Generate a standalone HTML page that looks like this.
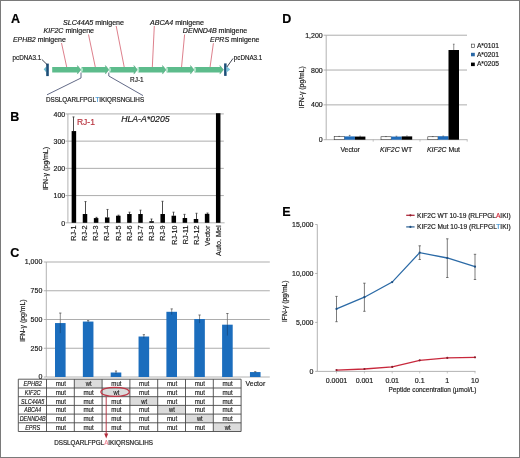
<!DOCTYPE html>
<html><head><meta charset="utf-8"><style>
html,body{margin:0;padding:0;background:#fff;}
body{width:520px;height:458px;overflow:hidden;}
svg{display:block;font-family:"Liberation Sans", sans-serif;will-change:transform;} text{stroke-width:0.18px;}
</style></head><body>
<svg width="520" height="458" viewBox="0 0 520 458">


<g>
<rect x="0" y="0" width="520" height="458" fill="#fff"/>
<text x="11" y="22.6" font-size="12.5" font-weight="bold" fill="#000" stroke="#000">A</text>
<text x="10.2" y="121.4" font-size="12.5" font-weight="bold" fill="#000" stroke="#000">B</text>
<text x="10.3" y="257.3" font-size="12.5" font-weight="bold" fill="#000" stroke="#000">C</text>
<text x="282.2" y="22.6" font-size="12.5" font-weight="bold" fill="#000" stroke="#000">D</text>
<text x="282.2" y="215.5" font-size="12.5" font-weight="bold" fill="#000" stroke="#000">E</text>
<text x="63" y="24.6" font-size="7" textLength="61" lengthAdjust="spacingAndGlyphs" fill="#1a1a1a" stroke="#1a1a1a"><tspan font-style="italic">SLC44A5</tspan> minigene</text>
<text x="150" y="24.6" font-size="7" textLength="54" lengthAdjust="spacingAndGlyphs" fill="#1a1a1a" stroke="#1a1a1a"><tspan font-style="italic">ABCA4</tspan> minigene</text>
<text x="43.5" y="33.4" font-size="7" textLength="50.5" lengthAdjust="spacingAndGlyphs" fill="#1a1a1a" stroke="#1a1a1a"><tspan font-style="italic">KIF2C</tspan> minigene</text>
<text x="182.8" y="33.4" font-size="7" textLength="64.5" lengthAdjust="spacingAndGlyphs" fill="#1a1a1a" stroke="#1a1a1a"><tspan font-style="italic">DENND4B</tspan> minigene</text>
<text x="13" y="42.2" font-size="7" textLength="52.8" lengthAdjust="spacingAndGlyphs" fill="#1a1a1a" stroke="#1a1a1a"><tspan font-style="italic">EPHB2</tspan> minigene</text>
<text x="210" y="42.2" font-size="7" textLength="49.5" lengthAdjust="spacingAndGlyphs" fill="#1a1a1a" stroke="#1a1a1a"><tspan font-style="italic">EPRS</tspan> minigene</text>
<text x="12.5" y="59.9" font-size="7" textLength="28.8" lengthAdjust="spacingAndGlyphs" fill="#1a1a1a" stroke="#1a1a1a">pcDNA3.1</text>
<text x="233.8" y="59.5" font-size="7" textLength="28.5" lengthAdjust="spacingAndGlyphs" fill="#1a1a1a" stroke="#1a1a1a">pcDNA3.1</text>
<line x1="61.5" y1="43" x2="66.8" y2="67.5" stroke="#d4606e" stroke-width="0.8"/>
<line x1="88.5" y1="34.5" x2="95.4" y2="67.5" stroke="#d4606e" stroke-width="0.8"/>
<line x1="116.2" y1="26" x2="124.3" y2="67.5" stroke="#d4606e" stroke-width="0.8"/>
<line x1="154.3" y1="26" x2="152.3" y2="67.5" stroke="#d4606e" stroke-width="0.8"/>
<line x1="184.6" y1="34.5" x2="181.5" y2="67.5" stroke="#d4606e" stroke-width="0.8"/>
<line x1="213.4" y1="43.2" x2="210" y2="67.5" stroke="#d4606e" stroke-width="0.8"/>
<path d="M52.2,66.9 L77.30000000000001,66.9 L77.30000000000001,65.4 L80.9,69.75 L77.30000000000001,74.1 L77.30000000000001,72.6 L52.2,72.6 Z" fill="#5dbc8c"/>
<path d="M77.30000000000001,65.4 L80.9,69.75 L77.30000000000001,74.1" fill="none" stroke="#4f9f78" stroke-width="0.6"/>
<path d="M81.80000000000001,66.9 L105.30000000000001,66.9 L105.30000000000001,65.4 L108.9,69.75 L105.30000000000001,74.1 L105.30000000000001,72.6 L81.80000000000001,72.6 L82.60000000000001,69.75 Z" fill="#5dbc8c"/>
<path d="M105.30000000000001,65.4 L108.9,69.75 L105.30000000000001,74.1" fill="none" stroke="#4f9f78" stroke-width="0.6"/>
<path d="M80.9,69.75 L81.10000000000001,66.9 L82.00000000000001,66.9 L82.80000000000001,69.75 L82.00000000000001,72.6 L81.10000000000001,72.6 Z" fill="#b0e6ca"/>
<path d="M109.80000000000001,66.9 L133.8,66.9 L133.8,65.4 L137.4,69.75 L133.8,74.1 L133.8,72.6 L109.80000000000001,72.6 L110.60000000000001,69.75 Z" fill="#5dbc8c"/>
<path d="M133.8,65.4 L137.4,69.75 L133.8,74.1" fill="none" stroke="#4f9f78" stroke-width="0.6"/>
<path d="M108.9,69.75 L109.10000000000001,66.9 L110.00000000000001,66.9 L110.80000000000001,69.75 L110.00000000000001,72.6 L109.10000000000001,72.6 Z" fill="#b0e6ca"/>
<path d="M138.3,66.9 L162.4,66.9 L162.4,65.4 L166.0,69.75 L162.4,74.1 L162.4,72.6 L138.3,72.6 L139.10000000000002,69.75 Z" fill="#5dbc8c"/>
<path d="M162.4,65.4 L166.0,69.75 L162.4,74.1" fill="none" stroke="#4f9f78" stroke-width="0.6"/>
<path d="M137.4,69.75 L137.6,66.9 L138.5,66.9 L139.3,69.75 L138.5,72.6 L137.6,72.6 Z" fill="#b0e6ca"/>
<path d="M166.9,66.9 L190.4,66.9 L190.4,65.4 L194.0,69.75 L190.4,74.1 L190.4,72.6 L166.9,72.6 L167.70000000000002,69.75 Z" fill="#5dbc8c"/>
<path d="M190.4,65.4 L194.0,69.75 L190.4,74.1" fill="none" stroke="#4f9f78" stroke-width="0.6"/>
<path d="M166.0,69.75 L166.2,66.9 L167.1,66.9 L167.9,69.75 L167.1,72.6 L166.2,72.6 Z" fill="#b0e6ca"/>
<path d="M194.9,66.9 L219.8,66.9 L219.8,65.4 L223.4,69.75 L219.8,74.1 L219.8,72.6 L194.9,72.6 L195.70000000000002,69.75 Z" fill="#5dbc8c"/>
<path d="M219.8,65.4 L223.4,69.75 L219.8,74.1" fill="none" stroke="#4f9f78" stroke-width="0.6"/>
<path d="M194.0,69.75 L194.2,66.9 L195.1,66.9 L195.9,69.75 L195.1,72.6 L194.2,72.6 Z" fill="#b0e6ca"/>
<path d="M46.3,66.4 L43.7,69.3 L46.3,72.4 Z" fill="#6cbcd0"/>
<rect x="46.20" y="63.60" width="2.60" height="12.50" fill="#1c4f78"/>
<rect x="224.10" y="63.40" width="2.50" height="12.50" fill="#1c4f78"/>
<path d="M226.5,66.2 L230.3,69.4 L226.5,72.6 Z" fill="#7cc4dc"/>
<line x1="41.8" y1="59.4" x2="47.3" y2="64.8" stroke="#2a3040" stroke-width="0.9"/>
<line x1="233.0" y1="58.5" x2="226.9" y2="67.0" stroke="#2a3040" stroke-width="0.9"/>
<path d="M81,72.6 L81,78 L47,94.8" fill="none" stroke="#3a4468" stroke-width="0.8"/>
<path d="M108.8,72.6 L108.8,76 L143,95.6" fill="none" stroke="#3a4468" stroke-width="0.8"/>
<text x="130.1" y="82" font-size="7" textLength="13.6" lengthAdjust="spacingAndGlyphs" fill="#1a1a1a" stroke="#1a1a1a">RJ-1</text>
<text x="45.9" y="101.6" font-size="6.5" textLength="98.2" lengthAdjust="spacingAndGlyphs" fill="#1a1a1a" stroke="#1a1a1a">DSSLQARLFPGL<tspan fill="#3a90d0" stroke="#3a90d0">T</tspan>IKIQRSNGLIHS</text>
<line x1="67.9" y1="195.58" x2="223.8" y2="195.58" stroke="#a4a4a4" stroke-width="0.9"/>
<line x1="67.9" y1="168.36" x2="223.8" y2="168.36" stroke="#a4a4a4" stroke-width="0.9"/>
<line x1="67.9" y1="141.14000000000001" x2="223.8" y2="141.14000000000001" stroke="#a4a4a4" stroke-width="0.9"/>
<line x1="67.9" y1="113.92000000000002" x2="223.8" y2="113.92000000000002" stroke="#a4a4a4" stroke-width="0.9"/>
<line x1="67.9" y1="113.92000000000002" x2="67.9" y2="222.8" stroke="#a0a0a0" stroke-width="0.8"/>
<line x1="67.9" y1="222.8" x2="224.6" y2="222.8" stroke="#a0a0a0" stroke-width="0.8"/>
<line x1="65.5" y1="222.8" x2="67.9" y2="222.8" stroke="#a0a0a0" stroke-width="0.8"/>
<text x="65.2" y="225.70000000000002" font-size="7" text-anchor="end" fill="#1a1a1a" stroke="#1a1a1a">0</text>
<line x1="65.5" y1="195.58" x2="67.9" y2="195.58" stroke="#a0a0a0" stroke-width="0.8"/>
<text x="65.2" y="198.48000000000002" font-size="7" text-anchor="end" fill="#1a1a1a" stroke="#1a1a1a">100</text>
<line x1="65.5" y1="168.36" x2="67.9" y2="168.36" stroke="#a0a0a0" stroke-width="0.8"/>
<text x="65.2" y="171.26000000000002" font-size="7" text-anchor="end" fill="#1a1a1a" stroke="#1a1a1a">200</text>
<line x1="65.5" y1="141.14000000000001" x2="67.9" y2="141.14000000000001" stroke="#a0a0a0" stroke-width="0.8"/>
<text x="65.2" y="144.04000000000002" font-size="7" text-anchor="end" fill="#1a1a1a" stroke="#1a1a1a">300</text>
<line x1="65.5" y1="113.92000000000002" x2="67.9" y2="113.92000000000002" stroke="#a0a0a0" stroke-width="0.8"/>
<text x="65.2" y="116.82000000000002" font-size="7" text-anchor="end" fill="#1a1a1a" stroke="#1a1a1a">400</text>
<text x="48.3" y="168.5" font-size="7" text-anchor="middle" textLength="43.2" lengthAdjust="spacingAndGlyphs" fill="#1a1a1a" stroke="#1a1a1a" transform="rotate(-90 48.3 168.5)">IFN-γ (pg/mL)</text>
<text x="76.9" y="124.9" font-size="9" textLength="18.0" lengthAdjust="spacingAndGlyphs" fill="#b8343f" stroke="#b8343f">RJ-1</text>
<text x="121.2" y="122.1" font-size="8.9" textLength="48.4" lengthAdjust="spacingAndGlyphs" font-style="italic" fill="#1a1a1a" stroke="#1a1a1a">HLA-A*0205</text>
<line x1="73.5" y1="116.91420000000001" x2="73.5" y2="131.0686" stroke="#3a3a3a" stroke-width="0.9"/>
<line x1="72.5" y1="116.91420000000001" x2="74.5" y2="116.91420000000001" stroke="#3a3a3a" stroke-width="0.8"/>
<rect x="71.65" y="131.07" width="4.50" height="91.73" fill="#000"/>
<text x="75.8" y="225.5" font-size="7.2" text-anchor="end" fill="#1a1a1a" stroke="#1a1a1a" transform="rotate(-90 75.8 225.5)">RJ-1</text>
<line x1="85.5" y1="201.5684" x2="85.5" y2="214.00794000000002" stroke="#3a3a3a" stroke-width="0.9"/>
<line x1="84.5" y1="201.5684" x2="86.5" y2="201.5684" stroke="#3a3a3a" stroke-width="0.8"/>
<rect x="82.75" y="214.01" width="4.50" height="8.79" fill="#000"/>
<text x="87.0" y="225.5" font-size="7.2" text-anchor="end" fill="#1a1a1a" stroke="#1a1a1a" transform="rotate(-90 87.0 225.5)">RJ-2</text>
<line x1="96.5" y1="217.35600000000002" x2="96.5" y2="218.09094000000002" stroke="#3a3a3a" stroke-width="0.9"/>
<line x1="95.5" y1="217.35600000000002" x2="97.5" y2="217.35600000000002" stroke="#3a3a3a" stroke-width="0.8"/>
<rect x="93.85" y="218.09" width="4.50" height="4.71" fill="#000"/>
<text x="98.2" y="225.5" font-size="7.2" text-anchor="end" fill="#1a1a1a" stroke="#1a1a1a" transform="rotate(-90 98.2 225.5)">RJ-3</text>
<line x1="107.5" y1="209.46220000000002" x2="107.5" y2="217.41044000000002" stroke="#3a3a3a" stroke-width="0.9"/>
<line x1="106.5" y1="209.46220000000002" x2="108.5" y2="209.46220000000002" stroke="#3a3a3a" stroke-width="0.8"/>
<rect x="104.95" y="217.41" width="4.50" height="5.39" fill="#000"/>
<text x="109.4" y="225.5" font-size="7.2" text-anchor="end" fill="#1a1a1a" stroke="#1a1a1a" transform="rotate(-90 109.4 225.5)">RJ-4</text>
<line x1="118.5" y1="215.1784" x2="118.5" y2="215.7228" stroke="#3a3a3a" stroke-width="0.9"/>
<line x1="117.5" y1="215.1784" x2="119.5" y2="215.1784" stroke="#3a3a3a" stroke-width="0.8"/>
<rect x="116.05" y="215.72" width="4.50" height="7.08" fill="#000"/>
<text x="120.6" y="225.5" font-size="7.2" text-anchor="end" fill="#1a1a1a" stroke="#1a1a1a" transform="rotate(-90 120.6 225.5)">RJ-5</text>
<line x1="129.5" y1="212.1842" x2="129.5" y2="214.00794000000002" stroke="#3a3a3a" stroke-width="0.9"/>
<line x1="128.5" y1="212.1842" x2="130.5" y2="212.1842" stroke="#3a3a3a" stroke-width="0.8"/>
<rect x="127.15" y="214.01" width="4.50" height="8.79" fill="#000"/>
<text x="131.8" y="225.5" font-size="7.2" text-anchor="end" fill="#1a1a1a" stroke="#1a1a1a" transform="rotate(-90 131.8 225.5)">RJ-6</text>
<line x1="140.5" y1="210.14270000000002" x2="140.5" y2="214.00794000000002" stroke="#3a3a3a" stroke-width="0.9"/>
<line x1="139.5" y1="210.14270000000002" x2="141.5" y2="210.14270000000002" stroke="#3a3a3a" stroke-width="0.8"/>
<rect x="138.25" y="214.01" width="4.50" height="8.79" fill="#000"/>
<text x="143.0" y="225.5" font-size="7.2" text-anchor="end" fill="#1a1a1a" stroke="#1a1a1a" transform="rotate(-90 143.0 225.5)">RJ-7</text>
<line x1="151.5" y1="218.9892" x2="151.5" y2="221.19402000000002" stroke="#3a3a3a" stroke-width="0.9"/>
<line x1="150.5" y1="218.9892" x2="152.5" y2="218.9892" stroke="#3a3a3a" stroke-width="0.8"/>
<rect x="149.35" y="221.19" width="4.50" height="1.61" fill="#000"/>
<text x="154.2" y="225.5" font-size="7.2" text-anchor="end" fill="#1a1a1a" stroke="#1a1a1a" transform="rotate(-90 154.2 225.5)">RJ-8</text>
<line x1="162.5" y1="201.2962" x2="162.5" y2="214.00794000000002" stroke="#3a3a3a" stroke-width="0.9"/>
<line x1="161.5" y1="201.2962" x2="163.5" y2="201.2962" stroke="#3a3a3a" stroke-width="0.8"/>
<rect x="160.45" y="214.01" width="4.50" height="8.79" fill="#000"/>
<text x="165.4" y="225.5" font-size="7.2" text-anchor="end" fill="#1a1a1a" stroke="#1a1a1a" transform="rotate(-90 165.4 225.5)">RJ-9</text>
<line x1="173.5" y1="212.1842" x2="173.5" y2="215.7228" stroke="#3a3a3a" stroke-width="0.9"/>
<line x1="172.5" y1="212.1842" x2="174.5" y2="212.1842" stroke="#3a3a3a" stroke-width="0.8"/>
<rect x="171.55" y="215.72" width="4.50" height="7.08" fill="#000"/>
<text x="176.6" y="225.5" font-size="7.2" text-anchor="end" fill="#1a1a1a" stroke="#1a1a1a" transform="rotate(-90 176.6 225.5)">RJ-10</text>
<line x1="184.5" y1="214.36180000000002" x2="184.5" y2="218.00928000000002" stroke="#3a3a3a" stroke-width="0.9"/>
<line x1="183.5" y1="214.36180000000002" x2="185.5" y2="214.36180000000002" stroke="#3a3a3a" stroke-width="0.8"/>
<rect x="182.65" y="218.01" width="4.50" height="4.79" fill="#000"/>
<text x="187.8" y="225.5" font-size="7.2" text-anchor="end" fill="#1a1a1a" stroke="#1a1a1a" transform="rotate(-90 187.8 225.5)">RJ-11</text>
<line x1="196.5" y1="213.27300000000002" x2="196.5" y2="218.9892" stroke="#3a3a3a" stroke-width="0.9"/>
<line x1="195.5" y1="213.27300000000002" x2="197.5" y2="213.27300000000002" stroke="#3a3a3a" stroke-width="0.8"/>
<rect x="193.75" y="218.99" width="4.50" height="3.81" fill="#000"/>
<text x="199.0" y="225.5" font-size="7.2" text-anchor="end" fill="#1a1a1a" stroke="#1a1a1a" transform="rotate(-90 199.0 225.5)">RJ-12</text>
<line x1="207.5" y1="213.00080000000003" x2="207.5" y2="213.81740000000002" stroke="#3a3a3a" stroke-width="0.9"/>
<line x1="206.5" y1="213.00080000000003" x2="208.5" y2="213.00080000000003" stroke="#3a3a3a" stroke-width="0.8"/>
<rect x="204.85" y="213.82" width="4.50" height="8.98" fill="#000"/>
<text x="210.2" y="225.5" font-size="7.2" text-anchor="end" fill="#1a1a1a" stroke="#1a1a1a" transform="rotate(-90 210.2 225.5)">Vector</text>
<rect x="215.95" y="113.20" width="4.50" height="109.60" fill="#000"/>
<text x="221.4" y="225.5" font-size="7.2" text-anchor="end" fill="#1a1a1a" stroke="#1a1a1a" transform="rotate(-90 221.4 225.5)">Auto. Mel</text>
<line x1="46.3" y1="348.25" x2="269.8" y2="348.25" stroke="#a4a4a4" stroke-width="0.9"/>
<line x1="46.3" y1="319.5" x2="269.8" y2="319.5" stroke="#a4a4a4" stroke-width="0.9"/>
<line x1="46.3" y1="290.75" x2="269.8" y2="290.75" stroke="#a4a4a4" stroke-width="0.9"/>
<line x1="46.3" y1="262.0" x2="269.8" y2="262.0" stroke="#a4a4a4" stroke-width="0.9"/>
<line x1="46.3" y1="262.0" x2="46.3" y2="377.0" stroke="#a0a0a0" stroke-width="0.8"/>
<line x1="46.3" y1="377.0" x2="269.8" y2="377.0" stroke="#a0a0a0" stroke-width="0.8"/>
<line x1="43.8" y1="377.0" x2="46.3" y2="377.0" stroke="#a0a0a0" stroke-width="0.8"/>
<text x="42.3" y="379.4" font-size="7" text-anchor="end" fill="#1a1a1a" stroke="#1a1a1a">0</text>
<line x1="43.8" y1="348.25" x2="46.3" y2="348.25" stroke="#a0a0a0" stroke-width="0.8"/>
<text x="42.3" y="350.65" font-size="7" text-anchor="end" fill="#1a1a1a" stroke="#1a1a1a">250</text>
<line x1="43.8" y1="319.5" x2="46.3" y2="319.5" stroke="#a0a0a0" stroke-width="0.8"/>
<text x="42.3" y="321.9" font-size="7" text-anchor="end" fill="#1a1a1a" stroke="#1a1a1a">500</text>
<line x1="43.8" y1="290.75" x2="46.3" y2="290.75" stroke="#a0a0a0" stroke-width="0.8"/>
<text x="42.3" y="293.15" font-size="7" text-anchor="end" fill="#1a1a1a" stroke="#1a1a1a">750</text>
<line x1="43.8" y1="262.0" x2="46.3" y2="262.0" stroke="#a0a0a0" stroke-width="0.8"/>
<text x="42.3" y="264.4" font-size="7" text-anchor="end" fill="#1a1a1a" stroke="#1a1a1a">1,000</text>
<text x="25.5" y="320.6" font-size="7" text-anchor="middle" textLength="42.4" lengthAdjust="spacingAndGlyphs" fill="#1a1a1a" stroke="#1a1a1a" transform="rotate(-90 25.5 320.6)">IFN-γ (pg/mL)</text>
<rect x="55.00" y="323.06" width="10.60" height="53.94" fill="#1b6dbd"/>
<line x1="60.3" y1="313.06" x2="60.3" y2="323.065" stroke="#707070" stroke-width="0.8"/>
<line x1="60.3" y1="323.065" x2="60.3" y2="333.07" stroke="#164a80" stroke-width="0.8"/>
<line x1="59.199999999999996" y1="313.06" x2="61.4" y2="313.06" stroke="#505050" stroke-width="0.8"/>
<rect x="82.85" y="321.57" width="10.60" height="55.43" fill="#1b6dbd"/>
<line x1="88.15" y1="320.65" x2="88.15" y2="321.57" stroke="#707070" stroke-width="0.8"/>
<line x1="88.15" y1="321.57" x2="88.15" y2="322.49" stroke="#164a80" stroke-width="0.8"/>
<line x1="87.05000000000001" y1="320.65" x2="89.25" y2="320.65" stroke="#505050" stroke-width="0.8"/>
<rect x="110.70" y="372.51" width="10.60" height="4.49" fill="#1b6dbd"/>
<line x1="116.0" y1="371.02" x2="116.0" y2="372.515" stroke="#707070" stroke-width="0.8"/>
<line x1="116.0" y1="372.515" x2="116.0" y2="374.01" stroke="#164a80" stroke-width="0.8"/>
<line x1="114.9" y1="371.02" x2="117.1" y2="371.02" stroke="#505050" stroke-width="0.8"/>
<rect x="138.55" y="336.52" width="10.60" height="40.48" fill="#1b6dbd"/>
<line x1="143.85000000000002" y1="334.68" x2="143.85000000000002" y2="336.52" stroke="#707070" stroke-width="0.8"/>
<line x1="143.85000000000002" y1="336.52" x2="143.85000000000002" y2="338.36" stroke="#164a80" stroke-width="0.8"/>
<line x1="142.75000000000003" y1="334.68" x2="144.95000000000002" y2="334.68" stroke="#505050" stroke-width="0.8"/>
<rect x="166.40" y="311.80" width="10.60" height="65.20" fill="#1b6dbd"/>
<line x1="171.7" y1="308.92" x2="171.7" y2="311.795" stroke="#707070" stroke-width="0.8"/>
<line x1="171.7" y1="311.795" x2="171.7" y2="314.67" stroke="#164a80" stroke-width="0.8"/>
<line x1="170.6" y1="308.92" x2="172.79999999999998" y2="308.92" stroke="#505050" stroke-width="0.8"/>
<rect x="194.25" y="319.04" width="10.60" height="57.96" fill="#1b6dbd"/>
<line x1="199.55" y1="315.015" x2="199.55" y2="319.04" stroke="#707070" stroke-width="0.8"/>
<line x1="199.55" y1="319.04" x2="199.55" y2="323.065" stroke="#164a80" stroke-width="0.8"/>
<line x1="198.45000000000002" y1="315.015" x2="200.65" y2="315.015" stroke="#505050" stroke-width="0.8"/>
<rect x="222.10" y="324.68" width="10.60" height="52.32" fill="#1b6dbd"/>
<line x1="227.40000000000003" y1="313.52" x2="227.40000000000003" y2="324.675" stroke="#707070" stroke-width="0.8"/>
<line x1="227.40000000000003" y1="324.675" x2="227.40000000000003" y2="335.6" stroke="#164a80" stroke-width="0.8"/>
<line x1="226.30000000000004" y1="313.52" x2="228.50000000000003" y2="313.52" stroke="#505050" stroke-width="0.8"/>
<rect x="249.95" y="372.06" width="10.60" height="4.94" fill="#1b6dbd"/>
<line x1="255.25" y1="371.71" x2="255.25" y2="372.055" stroke="#707070" stroke-width="0.8"/>
<line x1="255.25" y1="372.055" x2="255.25" y2="372.4" stroke="#164a80" stroke-width="0.8"/>
<line x1="254.15" y1="371.71" x2="256.35" y2="371.71" stroke="#505050" stroke-width="0.8"/>
<text x="245.6" y="385.6" font-size="7.6" textLength="19.6" lengthAdjust="spacingAndGlyphs" fill="#1a1a1a" stroke="#1a1a1a">Vector</text>
<rect x="74.30" y="379.20" width="27.80" height="8.80" fill="#dcdcdc"/>
<rect x="102.10" y="388.00" width="27.80" height="8.70" fill="#dcdcdc"/>
<rect x="129.90" y="396.70" width="27.80" height="8.70" fill="#dcdcdc"/>
<rect x="157.70" y="405.40" width="27.80" height="8.70" fill="#dcdcdc"/>
<rect x="185.50" y="414.10" width="27.80" height="8.70" fill="#dcdcdc"/>
<rect x="213.30" y="422.80" width="27.80" height="8.70" fill="#dcdcdc"/>
<line x1="18.3" y1="379.2" x2="241.1" y2="379.2" stroke="#484848" stroke-width="0.9"/>
<line x1="18.3" y1="388.0" x2="241.1" y2="388.0" stroke="#484848" stroke-width="0.9"/>
<line x1="18.3" y1="396.7" x2="241.1" y2="396.7" stroke="#484848" stroke-width="0.9"/>
<line x1="18.3" y1="405.4" x2="241.1" y2="405.4" stroke="#484848" stroke-width="0.9"/>
<line x1="18.3" y1="414.1" x2="241.1" y2="414.1" stroke="#484848" stroke-width="0.9"/>
<line x1="18.3" y1="422.8" x2="241.1" y2="422.8" stroke="#484848" stroke-width="0.9"/>
<line x1="18.3" y1="431.5" x2="241.1" y2="431.5" stroke="#484848" stroke-width="0.9"/>
<line x1="18.3" y1="379.2" x2="18.3" y2="431.5" stroke="#484848" stroke-width="0.9"/>
<line x1="46.5" y1="379.2" x2="46.5" y2="431.5" stroke="#484848" stroke-width="0.9"/>
<line x1="74.3" y1="379.2" x2="74.3" y2="431.5" stroke="#484848" stroke-width="0.9"/>
<line x1="102.1" y1="379.2" x2="102.1" y2="431.5" stroke="#484848" stroke-width="0.9"/>
<line x1="129.9" y1="379.2" x2="129.9" y2="431.5" stroke="#484848" stroke-width="0.9"/>
<line x1="157.7" y1="379.2" x2="157.7" y2="431.5" stroke="#484848" stroke-width="0.9"/>
<line x1="185.5" y1="379.2" x2="185.5" y2="431.5" stroke="#484848" stroke-width="0.9"/>
<line x1="213.3" y1="379.2" x2="213.3" y2="431.5" stroke="#484848" stroke-width="0.9"/>
<line x1="241.1" y1="379.2" x2="241.1" y2="431.5" stroke="#484848" stroke-width="0.9"/>
<text x="32.7" y="386.1" font-size="7.5" text-anchor="middle" textLength="18.4" lengthAdjust="spacingAndGlyphs" font-style="italic" fill="#1a1a1a" stroke="#1a1a1a">EPHB2</text>
<text x="60.8" y="386.1" font-size="7.5" text-anchor="middle" textLength="10.2" lengthAdjust="spacingAndGlyphs" fill="#1a1a1a" stroke="#1a1a1a">mut</text>
<text x="88.6" y="386.1" font-size="7.5" text-anchor="middle" textLength="5.8" lengthAdjust="spacingAndGlyphs" fill="#1a1a1a" stroke="#1a1a1a">wt</text>
<text x="116.39999999999999" y="386.1" font-size="7.5" text-anchor="middle" textLength="10.2" lengthAdjust="spacingAndGlyphs" fill="#1a1a1a" stroke="#1a1a1a">mut</text>
<text x="144.20000000000002" y="386.1" font-size="7.5" text-anchor="middle" textLength="10.2" lengthAdjust="spacingAndGlyphs" fill="#1a1a1a" stroke="#1a1a1a">mut</text>
<text x="172.0" y="386.1" font-size="7.5" text-anchor="middle" textLength="10.2" lengthAdjust="spacingAndGlyphs" fill="#1a1a1a" stroke="#1a1a1a">mut</text>
<text x="199.8" y="386.1" font-size="7.5" text-anchor="middle" textLength="10.2" lengthAdjust="spacingAndGlyphs" fill="#1a1a1a" stroke="#1a1a1a">mut</text>
<text x="227.60000000000002" y="386.1" font-size="7.5" text-anchor="middle" textLength="10.2" lengthAdjust="spacingAndGlyphs" fill="#1a1a1a" stroke="#1a1a1a">mut</text>
<text x="32.7" y="394.85" font-size="7.5" text-anchor="middle" textLength="15.8" lengthAdjust="spacingAndGlyphs" font-style="italic" fill="#1a1a1a" stroke="#1a1a1a">KIF2C</text>
<text x="60.8" y="394.85" font-size="7.5" text-anchor="middle" textLength="10.2" lengthAdjust="spacingAndGlyphs" fill="#1a1a1a" stroke="#1a1a1a">mut</text>
<text x="88.6" y="394.85" font-size="7.5" text-anchor="middle" textLength="10.2" lengthAdjust="spacingAndGlyphs" fill="#1a1a1a" stroke="#1a1a1a">mut</text>
<text x="116.39999999999999" y="394.85" font-size="7.5" text-anchor="middle" textLength="5.8" lengthAdjust="spacingAndGlyphs" fill="#1a1a1a" stroke="#1a1a1a">wt</text>
<text x="144.20000000000002" y="394.85" font-size="7.5" text-anchor="middle" textLength="10.2" lengthAdjust="spacingAndGlyphs" fill="#1a1a1a" stroke="#1a1a1a">mut</text>
<text x="172.0" y="394.85" font-size="7.5" text-anchor="middle" textLength="10.2" lengthAdjust="spacingAndGlyphs" fill="#1a1a1a" stroke="#1a1a1a">mut</text>
<text x="199.8" y="394.85" font-size="7.5" text-anchor="middle" textLength="10.2" lengthAdjust="spacingAndGlyphs" fill="#1a1a1a" stroke="#1a1a1a">mut</text>
<text x="227.60000000000002" y="394.85" font-size="7.5" text-anchor="middle" textLength="10.2" lengthAdjust="spacingAndGlyphs" fill="#1a1a1a" stroke="#1a1a1a">mut</text>
<text x="32.7" y="403.54999999999995" font-size="7.5" text-anchor="middle" textLength="23.3" lengthAdjust="spacingAndGlyphs" font-style="italic" fill="#1a1a1a" stroke="#1a1a1a">SLC44A5</text>
<text x="60.8" y="403.54999999999995" font-size="7.5" text-anchor="middle" textLength="10.2" lengthAdjust="spacingAndGlyphs" fill="#1a1a1a" stroke="#1a1a1a">mut</text>
<text x="88.6" y="403.54999999999995" font-size="7.5" text-anchor="middle" textLength="10.2" lengthAdjust="spacingAndGlyphs" fill="#1a1a1a" stroke="#1a1a1a">mut</text>
<text x="116.39999999999999" y="403.54999999999995" font-size="7.5" text-anchor="middle" textLength="10.2" lengthAdjust="spacingAndGlyphs" fill="#1a1a1a" stroke="#1a1a1a">mut</text>
<text x="144.20000000000002" y="403.54999999999995" font-size="7.5" text-anchor="middle" textLength="5.8" lengthAdjust="spacingAndGlyphs" fill="#1a1a1a" stroke="#1a1a1a">wt</text>
<text x="172.0" y="403.54999999999995" font-size="7.5" text-anchor="middle" textLength="10.2" lengthAdjust="spacingAndGlyphs" fill="#1a1a1a" stroke="#1a1a1a">mut</text>
<text x="199.8" y="403.54999999999995" font-size="7.5" text-anchor="middle" textLength="10.2" lengthAdjust="spacingAndGlyphs" fill="#1a1a1a" stroke="#1a1a1a">mut</text>
<text x="227.60000000000002" y="403.54999999999995" font-size="7.5" text-anchor="middle" textLength="10.2" lengthAdjust="spacingAndGlyphs" fill="#1a1a1a" stroke="#1a1a1a">mut</text>
<text x="32.7" y="412.25" font-size="7.5" text-anchor="middle" textLength="17" lengthAdjust="spacingAndGlyphs" font-style="italic" fill="#1a1a1a" stroke="#1a1a1a">ABCA4</text>
<text x="60.8" y="412.25" font-size="7.5" text-anchor="middle" textLength="10.2" lengthAdjust="spacingAndGlyphs" fill="#1a1a1a" stroke="#1a1a1a">mut</text>
<text x="88.6" y="412.25" font-size="7.5" text-anchor="middle" textLength="10.2" lengthAdjust="spacingAndGlyphs" fill="#1a1a1a" stroke="#1a1a1a">mut</text>
<text x="116.39999999999999" y="412.25" font-size="7.5" text-anchor="middle" textLength="10.2" lengthAdjust="spacingAndGlyphs" fill="#1a1a1a" stroke="#1a1a1a">mut</text>
<text x="144.20000000000002" y="412.25" font-size="7.5" text-anchor="middle" textLength="10.2" lengthAdjust="spacingAndGlyphs" fill="#1a1a1a" stroke="#1a1a1a">mut</text>
<text x="172.0" y="412.25" font-size="7.5" text-anchor="middle" textLength="5.8" lengthAdjust="spacingAndGlyphs" fill="#1a1a1a" stroke="#1a1a1a">wt</text>
<text x="199.8" y="412.25" font-size="7.5" text-anchor="middle" textLength="10.2" lengthAdjust="spacingAndGlyphs" fill="#1a1a1a" stroke="#1a1a1a">mut</text>
<text x="227.60000000000002" y="412.25" font-size="7.5" text-anchor="middle" textLength="10.2" lengthAdjust="spacingAndGlyphs" fill="#1a1a1a" stroke="#1a1a1a">mut</text>
<text x="32.7" y="420.95000000000005" font-size="7.5" text-anchor="middle" textLength="26.0" lengthAdjust="spacingAndGlyphs" font-style="italic" fill="#1a1a1a" stroke="#1a1a1a">DENND4B</text>
<text x="60.8" y="420.95000000000005" font-size="7.5" text-anchor="middle" textLength="10.2" lengthAdjust="spacingAndGlyphs" fill="#1a1a1a" stroke="#1a1a1a">mut</text>
<text x="88.6" y="420.95000000000005" font-size="7.5" text-anchor="middle" textLength="10.2" lengthAdjust="spacingAndGlyphs" fill="#1a1a1a" stroke="#1a1a1a">mut</text>
<text x="116.39999999999999" y="420.95000000000005" font-size="7.5" text-anchor="middle" textLength="10.2" lengthAdjust="spacingAndGlyphs" fill="#1a1a1a" stroke="#1a1a1a">mut</text>
<text x="144.20000000000002" y="420.95000000000005" font-size="7.5" text-anchor="middle" textLength="10.2" lengthAdjust="spacingAndGlyphs" fill="#1a1a1a" stroke="#1a1a1a">mut</text>
<text x="172.0" y="420.95000000000005" font-size="7.5" text-anchor="middle" textLength="10.2" lengthAdjust="spacingAndGlyphs" fill="#1a1a1a" stroke="#1a1a1a">mut</text>
<text x="199.8" y="420.95000000000005" font-size="7.5" text-anchor="middle" textLength="5.8" lengthAdjust="spacingAndGlyphs" fill="#1a1a1a" stroke="#1a1a1a">wt</text>
<text x="227.60000000000002" y="420.95000000000005" font-size="7.5" text-anchor="middle" textLength="10.2" lengthAdjust="spacingAndGlyphs" fill="#1a1a1a" stroke="#1a1a1a">mut</text>
<text x="32.7" y="429.65" font-size="7.5" text-anchor="middle" textLength="15.1" lengthAdjust="spacingAndGlyphs" font-style="italic" fill="#1a1a1a" stroke="#1a1a1a">EPRS</text>
<text x="60.8" y="429.65" font-size="7.5" text-anchor="middle" textLength="10.2" lengthAdjust="spacingAndGlyphs" fill="#1a1a1a" stroke="#1a1a1a">mut</text>
<text x="88.6" y="429.65" font-size="7.5" text-anchor="middle" textLength="10.2" lengthAdjust="spacingAndGlyphs" fill="#1a1a1a" stroke="#1a1a1a">mut</text>
<text x="116.39999999999999" y="429.65" font-size="7.5" text-anchor="middle" textLength="10.2" lengthAdjust="spacingAndGlyphs" fill="#1a1a1a" stroke="#1a1a1a">mut</text>
<text x="144.20000000000002" y="429.65" font-size="7.5" text-anchor="middle" textLength="10.2" lengthAdjust="spacingAndGlyphs" fill="#1a1a1a" stroke="#1a1a1a">mut</text>
<text x="172.0" y="429.65" font-size="7.5" text-anchor="middle" textLength="10.2" lengthAdjust="spacingAndGlyphs" fill="#1a1a1a" stroke="#1a1a1a">mut</text>
<text x="199.8" y="429.65" font-size="7.5" text-anchor="middle" textLength="10.2" lengthAdjust="spacingAndGlyphs" fill="#1a1a1a" stroke="#1a1a1a">mut</text>
<text x="227.60000000000002" y="429.65" font-size="7.5" text-anchor="middle" textLength="5.8" lengthAdjust="spacingAndGlyphs" fill="#1a1a1a" stroke="#1a1a1a">wt</text>
<ellipse cx="115.1" cy="391.9" rx="14.2" ry="4.5" fill="none" stroke="#bf3646" stroke-width="1.3"/>
<line x1="106.2" y1="396.8" x2="106.2" y2="434" stroke="#b02a3a" stroke-width="0.9"/>
<path d="M104.2,433.6 L108.2,433.6 L106.2,438.4 Z" fill="#b02a3a"/>
<text x="54.2" y="444.6" font-size="6.5" textLength="98.8" lengthAdjust="spacingAndGlyphs" fill="#1a1a1a" stroke="#1a1a1a">DSSLQARLFPGL<tspan fill="#f08090" stroke="#f08090">A</tspan>IKIQRSNGLIHS</text>
<line x1="326.2" y1="104.868" x2="467" y2="104.868" stroke="#a4a4a4" stroke-width="0.9"/>
<line x1="326.2" y1="70.03599999999999" x2="467" y2="70.03599999999999" stroke="#a4a4a4" stroke-width="0.9"/>
<line x1="326.2" y1="35.20399999999998" x2="467" y2="35.20399999999998" stroke="#a4a4a4" stroke-width="0.9"/>
<line x1="326.2" y1="35.20399999999998" x2="326.2" y2="139.7" stroke="#a0a0a0" stroke-width="0.8"/>
<line x1="326.2" y1="139.7" x2="467.5" y2="139.7" stroke="#a0a0a0" stroke-width="0.8"/>
<line x1="323.6" y1="139.7" x2="326.2" y2="139.7" stroke="#a0a0a0" stroke-width="0.8"/>
<text x="322.7" y="142.2" font-size="7" text-anchor="end" fill="#1a1a1a" stroke="#1a1a1a">0</text>
<line x1="323.6" y1="104.868" x2="326.2" y2="104.868" stroke="#a0a0a0" stroke-width="0.8"/>
<text x="322.7" y="107.368" font-size="7" text-anchor="end" fill="#1a1a1a" stroke="#1a1a1a">400</text>
<line x1="323.6" y1="70.03599999999999" x2="326.2" y2="70.03599999999999" stroke="#a0a0a0" stroke-width="0.8"/>
<text x="322.7" y="72.53599999999999" font-size="7" text-anchor="end" fill="#1a1a1a" stroke="#1a1a1a">800</text>
<line x1="323.6" y1="35.20399999999998" x2="326.2" y2="35.20399999999998" stroke="#a0a0a0" stroke-width="0.8"/>
<text x="322.7" y="37.70399999999998" font-size="7" text-anchor="end" fill="#1a1a1a" stroke="#1a1a1a">1,200</text>
<text x="303.7" y="87.2" font-size="7" text-anchor="middle" textLength="42" lengthAdjust="spacingAndGlyphs" fill="#1a1a1a" stroke="#1a1a1a" transform="rotate(-90 303.7 87.2)">IFN-γ (pg/mL)</text>
<rect x="334.20" y="136.57" width="10.20" height="3.13" fill="#fff" stroke="#333" stroke-width="0.6"/>
<line x1="339.15" y1="136.39095999999998" x2="339.15" y2="136.56511999999998" stroke="#444" stroke-width="0.6"/>
<line x1="338.29999999999995" y1="136.39095999999998" x2="340.0" y2="136.39095999999998" stroke="#444" stroke-width="0.6"/>
<rect x="344.40" y="136.39" width="10.50" height="3.31" fill="#1f6cbb"/>
<line x1="349.65" y1="135.34599999999998" x2="349.65" y2="136.39095999999998" stroke="#444" stroke-width="0.6"/>
<line x1="348.79999999999995" y1="135.34599999999998" x2="350.5" y2="135.34599999999998" stroke="#444" stroke-width="0.6"/>
<rect x="354.90" y="136.57" width="10.50" height="3.13" fill="#000"/>
<line x1="360.15" y1="136.21679999999998" x2="360.15" y2="136.56511999999998" stroke="#444" stroke-width="0.6"/>
<line x1="359.29999999999995" y1="136.21679999999998" x2="361.0" y2="136.21679999999998" stroke="#444" stroke-width="0.6"/>
<rect x="381.00" y="136.74" width="10.20" height="2.96" fill="#fff" stroke="#333" stroke-width="0.6"/>
<line x1="385.95" y1="136.56511999999998" x2="385.95" y2="136.73927999999998" stroke="#444" stroke-width="0.6"/>
<line x1="385.09999999999997" y1="136.56511999999998" x2="386.8" y2="136.56511999999998" stroke="#444" stroke-width="0.6"/>
<rect x="391.20" y="136.57" width="10.50" height="3.13" fill="#1f6cbb"/>
<line x1="396.45" y1="136.21679999999998" x2="396.45" y2="136.56511999999998" stroke="#444" stroke-width="0.6"/>
<line x1="395.59999999999997" y1="136.21679999999998" x2="397.3" y2="136.21679999999998" stroke="#444" stroke-width="0.6"/>
<rect x="401.70" y="136.39" width="10.50" height="3.31" fill="#000"/>
<line x1="406.95" y1="136.04263999999998" x2="406.95" y2="136.39095999999998" stroke="#444" stroke-width="0.6"/>
<line x1="406.09999999999997" y1="136.04263999999998" x2="407.8" y2="136.04263999999998" stroke="#444" stroke-width="0.6"/>
<rect x="427.80" y="136.74" width="10.20" height="2.96" fill="#fff" stroke="#333" stroke-width="0.6"/>
<line x1="432.75" y1="136.56511999999998" x2="432.75" y2="136.73927999999998" stroke="#444" stroke-width="0.6"/>
<line x1="431.9" y1="136.56511999999998" x2="433.6" y2="136.56511999999998" stroke="#444" stroke-width="0.6"/>
<rect x="438.00" y="136.22" width="10.50" height="3.48" fill="#1f6cbb"/>
<line x1="443.25" y1="136.04263999999998" x2="443.25" y2="136.21679999999998" stroke="#444" stroke-width="0.6"/>
<line x1="442.4" y1="136.04263999999998" x2="444.1" y2="136.04263999999998" stroke="#444" stroke-width="0.6"/>
<rect x="448.50" y="50.01" width="10.50" height="89.69" fill="#000"/>
<line x1="453.75" y1="44.17323999999998" x2="453.75" y2="50.00759999999998" stroke="#444" stroke-width="0.6"/>
<line x1="452.9" y1="44.17323999999998" x2="454.6" y2="44.17323999999998" stroke="#444" stroke-width="0.6"/>
<line x1="373.2" y1="139.7" x2="373.2" y2="141.7" stroke="#a0a0a0" stroke-width="0.6"/>
<line x1="420" y1="139.7" x2="420" y2="141.7" stroke="#a0a0a0" stroke-width="0.6"/>
<line x1="467.2" y1="139.7" x2="467.2" y2="141.7" stroke="#a0a0a0" stroke-width="0.6"/>
<text x="340.4" y="151.7" font-size="7.5" textLength="19.4" lengthAdjust="spacingAndGlyphs" fill="#1a1a1a" stroke="#1a1a1a">Vector</text>
<text x="380.1" y="151.7" font-size="7.5" textLength="32.2" lengthAdjust="spacingAndGlyphs" fill="#1a1a1a" stroke="#1a1a1a"><tspan font-style="italic">KIF2C</tspan> WT</text>
<text x="427" y="151.7" font-size="7.5" textLength="33" lengthAdjust="spacingAndGlyphs" fill="#1a1a1a" stroke="#1a1a1a"><tspan font-style="italic">KIF2C</tspan> Mut</text>
<rect x="471.30" y="44.10" width="3.40" height="3.20" fill="#fff" stroke="#333" stroke-width="0.6"/>
<rect x="471.00" y="52.80" width="3.80" height="3.50" fill="#2a68a6"/>
<rect x="471.00" y="62.60" width="3.80" height="3.50" fill="#000"/>
<text x="476.9" y="47.5" font-size="7" textLength="22" lengthAdjust="spacingAndGlyphs" fill="#1a1a1a" stroke="#1a1a1a">A*0101</text>
<text x="476.9" y="56.9" font-size="7" textLength="22" lengthAdjust="spacingAndGlyphs" fill="#1a1a1a" stroke="#1a1a1a">A*0201</text>
<text x="476.9" y="66.4" font-size="7" textLength="22" lengthAdjust="spacingAndGlyphs" fill="#1a1a1a" stroke="#1a1a1a">A*0205</text>
<line x1="317.3" y1="224.505" x2="317.3" y2="371.4" stroke="#a0a0a0" stroke-width="0.8"/>
<line x1="317.3" y1="371.4" x2="475.5" y2="371.4" stroke="#a0a0a0" stroke-width="0.8"/>
<line x1="315.2" y1="371.4" x2="317.3" y2="371.4" stroke="#a0a0a0" stroke-width="0.8"/>
<text x="313.5" y="373.9" font-size="7" text-anchor="end" fill="#1a1a1a" stroke="#1a1a1a">0</text>
<line x1="315.2" y1="322.435" x2="317.3" y2="322.435" stroke="#a0a0a0" stroke-width="0.8"/>
<text x="313.5" y="324.935" font-size="7" text-anchor="end" fill="#1a1a1a" stroke="#1a1a1a">5,000</text>
<line x1="315.2" y1="273.46999999999997" x2="317.3" y2="273.46999999999997" stroke="#a0a0a0" stroke-width="0.8"/>
<text x="313.5" y="275.96999999999997" font-size="7" text-anchor="end" fill="#1a1a1a" stroke="#1a1a1a">10,000</text>
<line x1="315.2" y1="224.505" x2="317.3" y2="224.505" stroke="#a0a0a0" stroke-width="0.8"/>
<text x="313.5" y="227.005" font-size="7" text-anchor="end" fill="#1a1a1a" stroke="#1a1a1a">15,000</text>
<text x="287.5" y="301.2" font-size="7" text-anchor="middle" textLength="41.6" lengthAdjust="spacingAndGlyphs" fill="#1a1a1a" stroke="#1a1a1a" transform="rotate(-90 287.5 301.2)">IFN-γ (pg/mL)</text>
<line x1="336.5" y1="371.4" x2="336.5" y2="373.4" stroke="#a0a0a0" stroke-width="0.6"/>
<line x1="364.4" y1="371.4" x2="364.4" y2="373.4" stroke="#a0a0a0" stroke-width="0.6"/>
<line x1="392.2" y1="371.4" x2="392.2" y2="373.4" stroke="#a0a0a0" stroke-width="0.6"/>
<line x1="419.7" y1="371.4" x2="419.7" y2="373.4" stroke="#a0a0a0" stroke-width="0.6"/>
<line x1="447.3" y1="371.4" x2="447.3" y2="373.4" stroke="#a0a0a0" stroke-width="0.6"/>
<line x1="475.0" y1="371.4" x2="475.0" y2="373.4" stroke="#a0a0a0" stroke-width="0.6"/>
<text x="336.5" y="383" font-size="7" text-anchor="middle" fill="#1a1a1a" stroke="#1a1a1a">0.0001</text>
<text x="364.4" y="383" font-size="7" text-anchor="middle" fill="#1a1a1a" stroke="#1a1a1a">0.001</text>
<text x="392.2" y="383" font-size="7" text-anchor="middle" fill="#1a1a1a" stroke="#1a1a1a">0.01</text>
<text x="419.7" y="383" font-size="7" text-anchor="middle" fill="#1a1a1a" stroke="#1a1a1a">0.1</text>
<text x="447.3" y="383" font-size="7" text-anchor="middle" fill="#1a1a1a" stroke="#1a1a1a">1</text>
<text x="475.0" y="383" font-size="7" text-anchor="middle" fill="#1a1a1a" stroke="#1a1a1a">10</text>
<text x="388.5" y="392.3" font-size="7.5" textLength="88" lengthAdjust="spacingAndGlyphs" fill="#1a1a1a" stroke="#1a1a1a">Peptide concentration (µmol/L)</text>
<line x1="336.5" y1="296.4" x2="336.5" y2="321.7" stroke="#444" stroke-width="0.7"/>
<line x1="335.3" y1="296.4" x2="337.7" y2="296.4" stroke="#444" stroke-width="0.7"/>
<line x1="335.3" y1="321.7" x2="337.7" y2="321.7" stroke="#444" stroke-width="0.7"/>
<line x1="364.4" y1="283.2" x2="364.4" y2="311.3" stroke="#444" stroke-width="0.7"/>
<line x1="363.2" y1="283.2" x2="365.59999999999997" y2="283.2" stroke="#444" stroke-width="0.7"/>
<line x1="363.2" y1="311.3" x2="365.59999999999997" y2="311.3" stroke="#444" stroke-width="0.7"/>
<line x1="419.7" y1="245.8" x2="419.7" y2="259.5" stroke="#444" stroke-width="0.7"/>
<line x1="418.5" y1="245.8" x2="420.9" y2="245.8" stroke="#444" stroke-width="0.7"/>
<line x1="418.5" y1="259.5" x2="420.9" y2="259.5" stroke="#444" stroke-width="0.7"/>
<line x1="447.3" y1="238.8" x2="447.3" y2="277.5" stroke="#444" stroke-width="0.7"/>
<line x1="446.1" y1="238.8" x2="448.5" y2="238.8" stroke="#444" stroke-width="0.7"/>
<line x1="446.1" y1="277.5" x2="448.5" y2="277.5" stroke="#444" stroke-width="0.7"/>
<line x1="475.0" y1="254.3" x2="475.0" y2="279.5" stroke="#444" stroke-width="0.7"/>
<line x1="473.8" y1="254.3" x2="476.2" y2="254.3" stroke="#444" stroke-width="0.7"/>
<line x1="473.8" y1="279.5" x2="476.2" y2="279.5" stroke="#444" stroke-width="0.7"/>
<polyline points="336.5,308.9 364.4,297.2 392.2,282.1 419.7,252.6 447.3,258.0 475.0,266.7" fill="none" stroke="#2b6aa6" stroke-width="1.3"/>
<polyline points="336.5,370.1 364.4,369.0 392.2,366.9 419.7,360.3 447.3,357.9 475.0,357.3" fill="none" stroke="#c8283c" stroke-width="1.3"/>
<circle cx="336.5" cy="308.9" r="1.1" fill="#1f4f80"/>
<circle cx="364.4" cy="297.2" r="1.1" fill="#1f4f80"/>
<circle cx="392.2" cy="282.1" r="1.1" fill="#1f4f80"/>
<circle cx="419.7" cy="252.6" r="1.1" fill="#1f4f80"/>
<circle cx="447.3" cy="258.0" r="1.1" fill="#1f4f80"/>
<circle cx="475.0" cy="266.7" r="1.1" fill="#1f4f80"/>
<circle cx="336.5" cy="370.1" r="1.1" fill="#8a1c2a"/>
<circle cx="364.4" cy="369.0" r="1.1" fill="#8a1c2a"/>
<circle cx="392.2" cy="366.9" r="1.1" fill="#8a1c2a"/>
<circle cx="419.7" cy="360.3" r="1.1" fill="#8a1c2a"/>
<circle cx="447.3" cy="357.9" r="1.1" fill="#8a1c2a"/>
<circle cx="475.0" cy="357.3" r="1.1" fill="#8a1c2a"/>
<line x1="406.2" y1="215.3" x2="414.6" y2="215.3" stroke="#b02a3c" stroke-width="1.3"/>
<circle cx="410.4" cy="215.3" r="1.1" fill="#8a1c2a"/>
<line x1="406.2" y1="226.9" x2="414.6" y2="226.9" stroke="#3d6d9d" stroke-width="1.3"/>
<circle cx="410.4" cy="226.9" r="1.1" fill="#1f4f80"/>
<text x="417.0" y="217.6" font-size="7" textLength="93.6" lengthAdjust="spacingAndGlyphs" fill="#1a1a1a" stroke="#1a1a1a">KIF2C WT 10-19 (RLFPGL<tspan fill="#d02838" stroke="#d02838">A</tspan>IKI)</text>
<text x="417.0" y="229.3" font-size="7" textLength="93.6" lengthAdjust="spacingAndGlyphs" fill="#1a1a1a" stroke="#1a1a1a">KIF2C Mut 10-19 (RLFPGL<tspan fill="#3a90d0" stroke="#3a90d0">T</tspan>IKI)</text>
</g>
<rect x="0.5" y="0.5" width="519" height="457" fill="none" stroke="#7a7a7a" stroke-width="1"/>
</svg>
</body></html>
